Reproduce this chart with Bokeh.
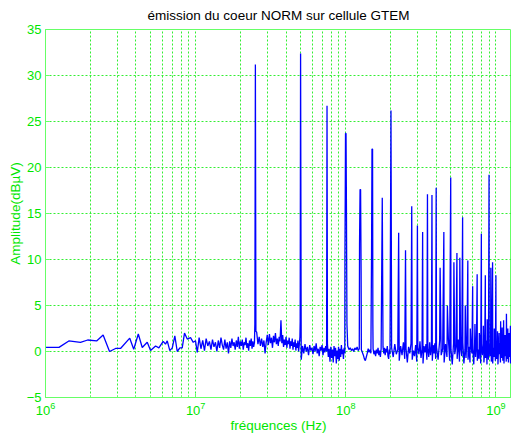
import numpy as np
from bokeh.plotting import figure
from bokeh.models import FixedTicker, Range1d
from bokeh.embed import file_html
from bokeh.resources import INLINE

# ---------------- data (frequencies in MHz, amplitudes in dBuV) ----------------
f_low = [1.00, 1.23, 1.43, 1.71, 1.91, 2.19, 2.42, 2.67, 2.93, 3.16,
         3.64, 3.87, 4.15, 4.41, 4.76, 5.01, 5.41, 5.69, 6.08, 6.30,
         6.47, 6.73, 6.99, 7.27, 7.54, 7.85, 8.14, 8.43, 8.79, 9.25,
         9.64, 9.98]
a_low = [0.45, 0.45, 1.15, 1.0, 1.25, 1.15, 1.8, 0.0, 0.33, 0.33,
         1.45, 0.25, 1.9, 0.43, 1.0, 0.1, 0.6, 0.4, 1.1, 0.8,
         1.16, 0.1, 0.4, 1.7, 0.0, 0.4, 0.4, 2.0, 1.35, 1.5,
         1.0, 1.16]

f_b = [10.25, 10.55, 10.85, 11.15, 11.45, 11.75, 12.05, 12.35, 12.65, 12.95,
       13.25, 13.55, 13.85, 14.15, 14.45, 14.75, 15.05, 15.35, 15.65, 15.95,
       16.25, 16.55, 16.85, 17.15, 17.45, 17.75, 18.05, 18.35, 18.65, 18.95,
       19.25, 19.55, 19.85, 20.15, 20.45, 20.75, 21.05, 21.35, 21.65, 21.95,
       22.25, 22.55, 22.85, 23.15, 23.45, 23.75, 24.05, 24.35, 24.65]
a_b = [-0.1, 1.5, 0.3, 1.2, 0.1, 1.4, 0.6, 1.1, 0.2, 1.3,
       0.5, 1.0, 0.0, 1.2, 0.4, 1.5, 0.7, 0.2, 1.3, 0.3,
       1.0, -0.2, 1.1, 0.4, 1.4, 0.6, 1.0, 0.2, 1.2, 0.5,
       1.6, 0.3, 1.1, 0.6, 1.3, 0.2, 1.0, 0.7, 1.5, 0.4,
       0.9, 0.1, 1.2, 0.6, 1.4, 0.3, 1.1, 0.5, 1.0]

f_c = [25.5, 26.0, 26.5, 27.0, 27.5, 28.0, 28.5, 29.0, 29.5, 30.0,
       30.5, 31.0, 31.5, 32.0, 32.5, 33.0, 33.5, 34.0, 34.5, 35.0,
       35.5, 36.0, 36.5, 37.0, 37.5, 38.0, 38.5, 39.0, 39.5, 40.0,
       40.5, 41.0, 41.5, 42.0, 42.5, 43.0, 43.5, 44.0, 44.5, 45.0,
       45.5, 46.0, 46.5, 47.0, 47.5, 48.0, 48.5, 49.0, 49.5]
a_c = [2.1, 0.8, 1.6, 0.6, 1.4, 0.5, 1.2, -0.2, 1.0, 1.8,
       0.7, 1.9, 0.9, 1.5, 0.4, 1.7, 1.0, 2.0, 0.8, 1.4,
       0.6, 1.6, 1.1, 3.4, 0.9, 1.8, 0.5, 1.3, 0.7, 1.6,
       0.4, 1.2, 0.8, 1.5, 0.3, 1.1, 0.6, 1.4, 0.2, 1.0,
       0.5, 1.3, 0.1, 0.9, 0.4, 1.2, 0.0, 0.7, 1.6]

f_d = [50.5, 51.5, 52.5, 53.5, 54.5, 55.5, 56.5, 57.5, 58.5, 59.5,
       60.5, 61.5, 62.5, 63.5, 64.5, 65.5, 66.5, 67.5, 68.5, 69.5,
       70.5, 71.5, 72.5, 73.5, 74.5, 75.5, 76.5, 77.5, 78.5, 79.5,
       80.5, 81.5, 82.5, 83.5, 84.5, 85.5, 86.5, 87.5, 88.5, 89.5,
       90.5, 91.5, 92.5, 93.5, 94.5, 95.5, 96.5, 97.5, 98.5]
a_d = [-0.9, 0.6, -0.2, 0.8, 0.0, 0.5, -0.4, 0.7, 0.1, 0.4,
       -0.3, 0.6, 0.0, 0.9, -0.2, 0.3, -0.5, 0.5, 0.1, 0.7,
       -0.4, 0.4, -0.1, 0.6, 0.0, 0.8, -0.6, 0.3, -1.1, 0.5,
       -0.7, 0.2, -1.2, 0.6, -0.5, 0.4, -1.3, 0.1, -0.8, 0.5,
       -1.0, 0.3, -0.6, 0.7, -0.3, 0.2, -0.8, 0.4, -0.2]

f_e = [103, 105, 107, 109, 111, 113, 115, 117, 119, 121, 123,
       127, 129, 131, 133, 135, 137, 139, 141, 143, 145, 147,
       152, 154, 156, 158, 160, 162, 164, 166, 168, 170, 172,
       177, 179, 181, 183, 185, 187, 189, 191, 193, 195, 197]
a_e = [0.6, 0.2, 0.4, 0.1, 0.3, 0.0, 0.4, 0.2, 0.5, 0.1, 0.3,
       0.2, -0.1, -0.4, -0.8, -1.0, -0.6, -0.2, 0.3, -0.1, 0.2, -0.2,
       0.3, -0.3, 0.1, -0.5, 0.2, -0.2, 0.4, -0.4, 0.1, -0.6, 0.3,
       0.5, -0.2, 0.4, -0.4, 0.3, -0.1, 0.6, -0.5, -0.8, 0.2, -0.3]

f_g = [202, 207, 212, 217, 222, 227, 232, 237, 242, 247,
       252, 257, 262, 267, 272, 277, 282, 287, 292, 297,
       302, 307, 312, 317, 322, 327, 332, 337, 342, 347,
       352, 357, 362, 367, 372, 377, 382, 387, 392, 397]
a_g = [0.4, -0.6, 0.8, -0.3, 0.2, -1.0, 0.6, -0.4, 1.0, -0.8,
       0.3, -1.2, 0.5, -0.2, 0.9, -0.9, 0.1, -0.5, 0.7, -1.1,
       0.4, -0.3, 1.1, -0.7, 0.2, -1.3, 0.6, -0.1, 0.8, -0.9,
       0.3, -0.6, 1.0, -0.4, 0.5, -1.0, 0.7, -0.2, 0.9, -0.8]

f_h = [402, 412, 422, 432, 442, 452, 462, 472, 482, 492,
       502, 512, 522, 532, 542, 552, 562, 572, 582, 592,
       602, 612, 622, 632, 642, 652, 662, 672, 682, 692,
       702, 712, 722, 732, 742, 752, 762, 772, 782, 792,
       802, 812, 822, 832, 842, 852, 862, 872, 882, 892,
       902, 912, 922, 932, 942, 952, 962, 972, 982, 992,
       1002, 1012, 1022, 1032, 1042, 1052, 1062, 1072, 1082, 1092,
       1102, 1112, 1122, 1132, 1142, 1152, 1162, 1172, 1182, 1192,
       1202, 1212, 1222, 1232, 1242, 1252, 1262, 1272]
a_h = [0.5, -0.9, 1.2, -0.4, 0.3, -1.2, 0.8, -0.6, 1.5, -1.0,
       0.2, -1.4, 0.9, -0.3, 0.6, -0.8, 1.3, -1.1, 0.4, -0.5,
       1.0, -1.3, 0.2, -0.7, 1.6, -0.9, 0.5, -1.2, 0.8, -0.2,
       0.3, -1.4, 1.1, -0.6, 0.7, -1.0, 0.2, -0.8, 1.4, -1.3,
       0.6, -0.4, 0.9, -1.2, 0.1, -0.7, 1.2, -1.4, 0.5, -0.9,
       1.0, -0.5, 0.3, -1.1, 0.8, -1.3, 0.4, -0.6, 1.3, -1.0,
       0.2, -0.8, 1.1, -1.4, 0.6, -0.3, 0.9, -1.2, 0.4, -0.7,
       1.2, -1.0, 0.3, -1.3, 0.7, -0.5, 1.0, -1.1, 0.2, -0.8,
       0.9, -1.2, 0.5, -0.6, 1.1, -1.3, 0.4, 0.2]

# harmonic lines (25 MHz clock) with a few shoulder samples
pk_f = [24.8, 25.0, 25.2, 49.7, 50.0, 75.0,
        98.7, 99.2, 99.6, 100.4, 101.0, 101.8,
        123.5, 124.5, 125.5, 126.5,
        148.5, 149.5, 150.8, 151.5,
        175, 200, 225, 250, 275, 300, 325, 350, 375, 400,
        425, 450, 475, 500, 525, 550, 575, 600, 625, 650,
        675, 700, 725, 750, 775, 800, 825, 850, 875, 900,
        925, 950, 975, 1000, 1025, 1050, 1075, 1100, 1125, 1150,
        1175, 1200, 1225, 1250]
pk_a = [3.0, 31.2, 2.2, 3.3, 32.4, 26.7,
        10.4, 17.0, 23.7, 23.7, 15.8, 3.0,
        11.7, 17.6, 17.6, 8.6,
        10.8, 22.0, 22.0, 3.0,
        16.7, 26.2, 12.9, 11.0, 15.8, 13.7, 13.0, 17.1, 17.0, 17.8,
        9.1, 13.0, 5.0, 18.9, 9.7, 10.7, 10.2, 14.6, 5.0, 9.9,
        2.5, 7.1, 3.0, 8.4, 2.0, 12.8, 2.8, 8.3, 3.5, 19.2,
        9.1, 9.7, 2.5, 8.3, 2.2, 2.0, 3.3, 2.6, 3.4, 1.8,
        4.1, 2.5, 2.0, 2.8]

x_major_ticks = [1e6, 1e7, 1e8, 1e9]
x_minor_ticks = [2e6, 3e6, 4e6, 5e6, 6e6, 7e6, 8e6, 9e6,
                 2e7, 3e7, 4e7, 5e7, 6e7, 7e7, 8e7, 9e7,
                 2e8, 3e8, 4e8, 5e8, 6e8, 7e8, 8e8, 9e8]
y_ticks = [-5, 0, 5, 10, 15, 20, 25, 30, 35]

title_text = "émission du coeur NORM sur cellule GTEM"
x_label = "fréquences (Hz)"
y_label = "Amplitude(dBµV)"

# ---------------- assemble ----------------
freq = np.concatenate([f_low, f_b, f_c, f_d, f_e, f_g, f_h, pk_f]).astype(float)
amp = np.concatenate([a_low, a_b, a_c, a_d, a_e, a_g, a_h, pk_a]).astype(float)
order = np.argsort(freq, kind="stable")
freq_hz = freq[order] * 1e6
amp = amp[order]

GREEN_TXT = "#00e600"
GREEN_AX = "#66ff66"
GREEN_GRID = "#33ee33"

p = figure(width=511, height=435, x_axis_type="log",
           x_range=Range1d(1e6, 1.27e9), y_range=Range1d(-5, 35),
           output_backend="svg", toolbar_location=None, title=title_text,
           min_border_left=45, min_border_right=0, min_border_top=29,
           min_border_bottom=38)

p.background_fill_color = "white"
p.border_fill_color = "white"
p.outline_line_color = GREEN_AX
p.outline_line_width = 1

p.title.align = "center"
p.title.vertical_align = "middle"
p.title.text_font = "Liberation Sans"
p.title.text_font_size = "13.5px"
p.title.text_font_style = "normal"
p.title.text_color = "black"
p.title.standoff = 12

p.xaxis.ticker = FixedTicker(ticks=x_major_ticks, minor_ticks=x_minor_ticks)
p.yaxis.ticker = FixedTicker(ticks=y_ticks)

for ax in (p.xaxis, p.yaxis):
    ax.axis_line_color = GREEN_AX
    ax.axis_line_width = 1
    ax.major_tick_line_color = GREEN_AX
    ax.minor_tick_line_color = GREEN_AX
    ax.major_tick_in = 4
    ax.major_tick_out = 0
    ax.minor_tick_in = 2
    ax.minor_tick_out = 0
    ax.major_label_text_color = GREEN_TXT
    ax.major_label_text_font = "Liberation Sans"
    ax.major_label_text_font_size = "13px"
    ax.axis_label_text_color = GREEN_TXT
    ax.axis_label_text_font = "Liberation Sans"
    ax.axis_label_text_font_size = "13.5px"
    ax.axis_label_text_font_style = "normal"
    ax.axis_label_standoff = 0
    ax.major_label_standoff = 4

p.yaxis.axis_label_standoff = 1
p.xaxis.axis_label = x_label
p.yaxis.axis_label = y_label

p.xgrid.grid_line_color = GREEN_GRID
p.xgrid.grid_line_dash = "2 2"
p.xgrid.minor_grid_line_color = GREEN_GRID
p.xgrid.minor_grid_line_dash = "2 2"
p.ygrid.grid_line_color = GREEN_GRID
p.ygrid.grid_line_dash = "2 2"

p.line(freq_hz, amp, line_color="#0000ff", line_width=1.3)

open("out.html", "w").write(file_html(p, INLINE))
